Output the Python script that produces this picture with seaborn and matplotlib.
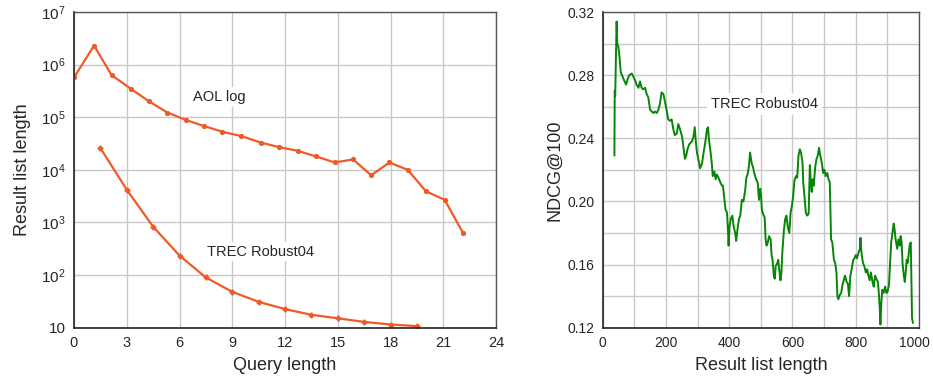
import numpy as np
import pandas as pd
import matplotlib
matplotlib.use("Agg")
import matplotlib.pyplot as plt
import matplotlib.transforms as mtransforms
from matplotlib.ticker import FixedLocator, FuncFormatter, LogLocator, NullFormatter
import seaborn as sns

# left panel: result list length vs query length
aol_query_len = [0, 1.14, 2.14, 3.22, 4.27, 5.31, 6.35, 7.39, 8.44, 9.5, 10.62,
                 11.68, 12.72, 13.77, 14.83, 15.87, 16.9, 17.94, 18.98, 20.02,
                 21.08, 22.14]
aol_result_len = [5.7e5, 2.3e6, 6.3e5, 3.5e5, 2.0e5, 1.23e5, 8.9e4, 6.8e4, 5.3e4,
                  4.4e4, 3.3e4, 2.7e4, 2.3e4, 1.8e4, 1.38e4, 1.58e4, 7.9e3,
                  1.38e4, 1.0e4, 3.9e3, 2.7e3, 6.2e2]

trec_query_len = [1.5, 3, 4.5, 6, 7.5, 9, 10.5, 12, 13.5, 15, 16.5, 18, 19.5]
trec_result_len = [2.6e4, 4.2e3, 8.3e2, 2.35e2, 90, 48, 31, 22.6, 17.6, 15.1,
                   12.9, 11.5, 10.7]

# right panel: NDCG@100 vs result list length (TREC Robust04)
ndcg_list_len = [
    37, 38, 39.5, 44, 46, 49.5, 53, 57, 61, 67, 74, 78, 84, 92, 97, 102, 107,
    113, 118, 123, 128, 134, 139, 144, 150, 155, 160, 165, 171, 176, 181, 186,
    192, 197, 202, 207, 213, 218, 223, 228, 234, 239, 244, 251, 256, 260, 264,
    268, 273, 277, 282, 287, 291, 294, 298, 303, 308, 314, 319, 324, 330, 333,
    336, 340, 345, 348, 353, 357, 361, 366, 372, 377, 380, 384, 388, 393, 396,
    398, 401, 405, 410, 414, 419, 422, 426, 431, 435, 440, 445, 451, 454, 458,
    462, 466, 471, 475, 479, 485, 490, 494, 498, 501, 503, 507, 512, 515, 518,
    522, 526, 531, 534, 537, 541, 544, 547, 552, 555, 558, 562, 565, 568, 573,
    577, 581, 585, 590, 594, 598, 602, 606, 611, 615, 619, 623, 627, 632, 634,
    638, 642, 646, 651, 655, 658, 661, 664, 667, 672, 676, 680, 684, 688, 693,
    697, 701, 705, 710, 714, 718, 722, 726, 731, 735, 739, 742, 745, 750, 754,
    758, 762, 766, 771, 775, 779, 783, 787, 792, 796, 800, 804, 808, 813, 815,
    817, 819, 823, 827, 832, 836, 840, 844, 848, 853, 857, 861, 865, 870, 873,
    876, 878, 881, 884, 888, 893, 897, 901, 905, 908, 912, 916, 920, 923, 926,
    931, 935, 939, 942, 945, 948, 952, 955, 958, 961, 964, 967, 971, 974, 976,
    978, 981]
ndcg_values = [
    0.229, 0.270, 0.267, 0.314, 0.300, 0.298, 0.292, 0.282, 0.280, 0.277,
    0.274, 0.277, 0.280, 0.281, 0.279, 0.277, 0.274, 0.272, 0.276, 0.272,
    0.271, 0.272, 0.268, 0.266, 0.258, 0.257, 0.256, 0.257, 0.256, 0.258,
    0.262, 0.269, 0.268, 0.263, 0.258, 0.252, 0.251, 0.252, 0.246, 0.242,
    0.243, 0.249, 0.246, 0.241, 0.233, 0.227, 0.229, 0.233, 0.236, 0.237,
    0.238, 0.241, 0.247, 0.239, 0.231, 0.226, 0.221, 0.224, 0.231, 0.237,
    0.246, 0.247, 0.239, 0.233, 0.224, 0.216, 0.219, 0.214, 0.217, 0.215,
    0.212, 0.210, 0.210, 0.203, 0.195, 0.193, 0.182, 0.172, 0.184, 0.189,
    0.191, 0.184, 0.180, 0.175, 0.182, 0.189, 0.191, 0.201, 0.200, 0.208,
    0.215, 0.217, 0.222, 0.231, 0.224, 0.222, 0.218, 0.214, 0.212, 0.201,
    0.208, 0.203, 0.195, 0.192, 0.190, 0.176, 0.172, 0.174, 0.178, 0.176,
    0.166, 0.163, 0.153, 0.151, 0.159, 0.161, 0.163, 0.157, 0.150, 0.155,
    0.168, 0.182, 0.189, 0.191, 0.184, 0.180, 0.193, 0.197, 0.203, 0.213,
    0.216, 0.215, 0.229, 0.233, 0.231, 0.224, 0.212, 0.203, 0.193, 0.191,
    0.192, 0.223, 0.212, 0.206, 0.214, 0.210, 0.222, 0.227, 0.229, 0.234,
    0.229, 0.224, 0.218, 0.220, 0.216, 0.218, 0.214, 0.212, 0.176, 0.174,
    0.163, 0.161, 0.155, 0.140, 0.138, 0.141, 0.142, 0.147, 0.150, 0.153,
    0.149, 0.148, 0.140, 0.153, 0.157, 0.163, 0.164, 0.166, 0.164, 0.167,
    0.170, 0.177, 0.170, 0.166, 0.161, 0.159, 0.155, 0.157, 0.153, 0.150,
    0.155, 0.149, 0.146, 0.153, 0.151, 0.149, 0.142, 0.132, 0.122, 0.136,
    0.144, 0.142, 0.146, 0.142, 0.143, 0.147, 0.159, 0.174, 0.180, 0.186,
    0.182, 0.176, 0.170, 0.176, 0.172, 0.178, 0.174, 0.161, 0.153, 0.149,
    0.155, 0.163, 0.161, 0.166, 0.173, 0.174, 0.149, 0.126, 0.123]

left_xticks = [0, 3, 6, 9, 12, 15, 18, 21, 24]
right_xticks = [0, 200, 400, 600, 800, 1000]
right_yticks = [0.12, 0.16, 0.20, 0.24, 0.28, 0.32]

ORANGE = "#F05A28"
GREEN = "#078507"
GRID = "#c8c8c8"

sns.set_style("white")
plt.rcParams["font.family"] = ["Liberation Sans", "DejaVu Sans"]
plt.rcParams["mathtext.fontset"] = "custom"
plt.rcParams["mathtext.rm"] = "Liberation Sans"
plt.rcParams["mathtext.it"] = "Liberation Sans:italic"

fig = plt.figure(figsize=(9.33, 3.81), dpi=100)
ax1 = fig.add_axes([74 / 933, 1 - 327.7 / 381, 422 / 933, 315.7 / 381])
ax2 = fig.add_axes([602.7 / 933, 1 - 327.7 / 381, 316.3 / 933, 315.7 / 381])

aol = pd.DataFrame({"q": aol_query_len, "n": aol_result_len})
trec = pd.DataFrame({"q": trec_query_len, "n": trec_result_len})
sns.lineplot(data=aol, x="q", y="n", ax=ax1, color=ORANGE, lw=1.6,
             marker="o", ms=3, mec=ORANGE, sort=False, estimator=None)
sns.lineplot(data=trec, x="q", y="n", ax=ax1, color=ORANGE, lw=1.6,
             marker="P", ms=3.5, mec=ORANGE, sort=False, estimator=None)

ax1.set_yscale("log")
ax1.set_xlim(0, 24)
ax1.set_ylim(10, 1e7)
ax1.xaxis.set_major_locator(FixedLocator(left_xticks))
ax1.yaxis.set_major_locator(LogLocator(base=10, numticks=10))
ax1.yaxis.set_minor_locator(LogLocator(base=10, subs=np.arange(2, 10), numticks=20))
ax1.yaxis.set_minor_formatter(NullFormatter())
ax1.yaxis.set_major_formatter(FuncFormatter(
    lambda v, p: "10" if round(np.log10(v)) == 1 else r"$10^{%d}$" % round(np.log10(v))))
ax1.grid(True, which="major", color=GRID, lw=1)
ax1.tick_params(axis="x", length=0, pad=6, labelsize=10.5)
ax1.tick_params(axis="y", which="major", direction="in", length=6, width=1,
                pad=6, labelsize=11, color="#333333")
ax1.tick_params(axis="y", which="minor", direction="in", length=3.5, width=0.8,
                color="#333333")
ax1.set_xlabel("Query length", fontsize=13, labelpad=5)
ax1.set_ylabel("Result list length", fontsize=13, labelpad=7)
ax1.text(8.28, 2.4e5, "AOL log", fontsize=10.5, ha="center", va="center",
         bbox=dict(facecolor="white", edgecolor="none", pad=2))
ax1.text(10.62, 280, "TREC Robust04", fontsize=10.5, ha="center", va="center",
         bbox=dict(facecolor="white", edgecolor="none", pad=2))

ndcg = pd.DataFrame({"len": ndcg_list_len, "ndcg": ndcg_values})
sns.lineplot(data=ndcg, x="len", y="ndcg", ax=ax2, color=GREEN, lw=1.4,
             sort=False, estimator=None)
ax2.set_xlim(0, 1000)
ax2.set_ylim(0.12, 0.32)
ax2.xaxis.set_major_locator(FixedLocator(right_xticks))
ax2.xaxis.set_minor_locator(FixedLocator(np.arange(100, 1000, 200)))
ax2.yaxis.set_major_locator(FixedLocator(right_yticks))
ax2.yaxis.set_minor_locator(FixedLocator(np.arange(0.14, 0.32, 0.04)))
ax2.yaxis.set_major_formatter(FuncFormatter(lambda v, p: "%.2f" % v))
ax2.grid(True, which="both", color=GRID, lw=1)
ax2.tick_params(which="both", length=0, pad=6, labelsize=10)
ax2.set_xlabel("Result list length", fontsize=13, labelpad=5)
ax2.set_ylabel("NDCG@100", fontsize=13, labelpad=3)
ax2.text(512, 0.2617, "TREC Robust04", fontsize=10.5, ha="center", va="center",
         bbox=dict(facecolor="white", edgecolor="none", pad=3))

# keep the last x label inside the figure
fig.canvas.draw()
last = ax2.get_xticklabels()[-1]
last.set_transform(last.get_transform() +
                   mtransforms.ScaledTranslation(-5 / 100, 0, fig.dpi_scale_trans))

for ax in (ax1, ax2):
    ax.set_axisbelow(True)
    for side in ("left", "bottom"):
        ax.spines[side].set_color("#222222")
        ax.spines[side].set_linewidth(1.2)
    for side in ("top", "right"):
        ax.spines[side].set_color("#555555")
        ax.spines[side].set_linewidth(1.0)

fig.savefig("out.png", dpi=100)
